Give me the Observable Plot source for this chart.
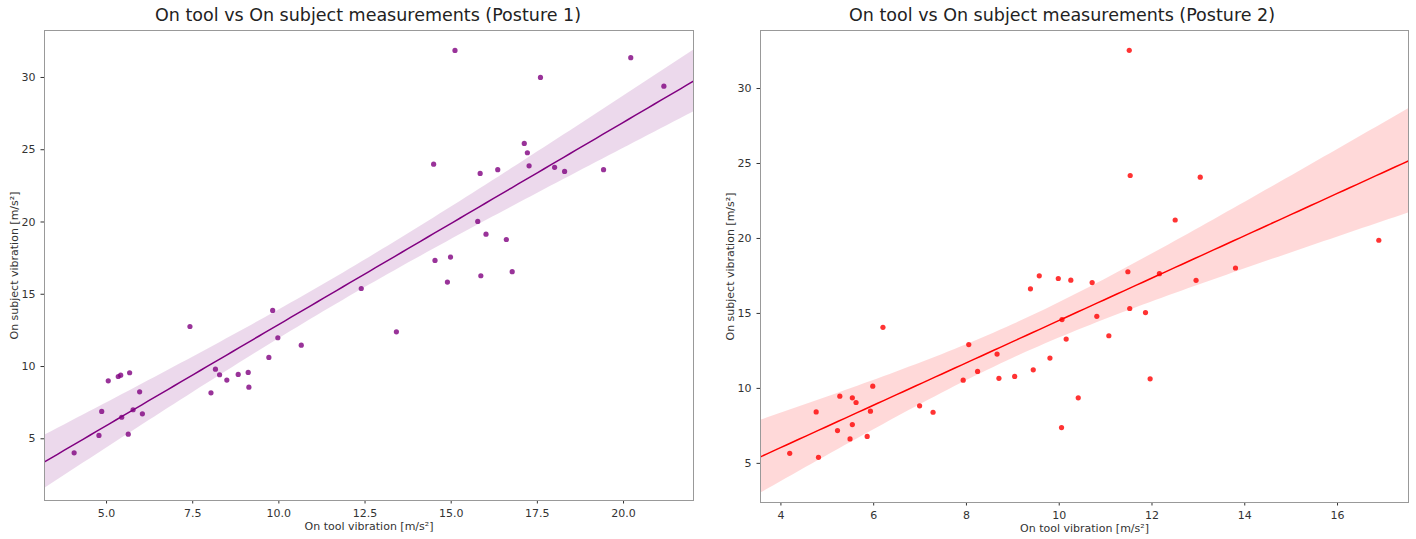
<!DOCTYPE html>
<html><head><meta charset="utf-8">
<script src="https://cdn.jsdelivr.net/npm/d3@7"></script>
<script src="https://cdn.jsdelivr.net/npm/@observablehq/plot@0.6"></script>
<style>
body{margin:0;background:#fff;font-family:"DejaVu Sans",sans-serif;}
#wrap{position:relative;width:1416px;height:539px;overflow:hidden;}
.title{position:absolute;top:5px;font-size:17.5px;color:#222;white-space:nowrap;transform:translateX(-50%);}
.panel{position:absolute;top:28px;}
</style></head><body><div id="wrap"></div>
<script>
// Posture 1 (purple)
const posture1Tool = [4.06,4.78,4.86,5.05,5.34,5.41,5.44,5.63,5.67,5.77,5.96,6.04,7.42,8.03,8.16,8.28,8.49,8.82,9.11,9.13,9.71,9.82,9.97,10.65,12.39,13.41,14.89,15.86,16.77,15.11,20.21,17.59,21.17,17.12,17.21,14.49,15.84,16.35,17.26,18.00,18.29,19.42,15.77,16.01,16.60,14.53,14.98];
const posture1Subject = [4.03,5.23,6.89,9.01,9.31,9.40,6.49,5.32,9.57,7.01,8.25,6.73,12.77,8.18,9.82,9.43,9.06,9.45,9.59,8.57,10.63,13.88,11.99,11.48,15.40,12.40,15.84,16.28,16.56,31.87,31.37,30.00,29.40,25.44,24.79,24.00,23.36,23.62,23.89,23.78,23.50,23.62,20.04,19.16,18.79,17.34,17.57];
// Posture 2 (red)
const posture2Tool = [4.19,4.76,4.81,5.22,5.27,5.49,5.54,5.54,5.62,5.86,5.93,5.98,6.20,6.99,7.28,7.93,8.05,8.24,8.66,8.70,9.04,9.38,9.44,9.57,9.80,9.98,10.05,10.06,10.15,10.25,10.71,10.81,11.07,10.41,11.52,11.48,11.86,11.96,12.16,12.95,11.51,11.53,13.04,12.50,16.89,13.80];
const posture2Subject = [5.67,8.43,5.40,7.19,9.48,6.63,9.37,7.59,9.06,6.80,8.48,10.15,14.07,8.84,8.41,10.55,12.92,11.13,12.29,10.67,10.80,16.64,11.24,17.51,12.02,17.33,7.39,14.59,13.29,17.22,17.06,14.81,13.51,9.37,15.33,17.78,15.06,10.64,17.65,17.21,32.55,24.20,24.09,21.23,19.88,18.03];

const posture1XTicks = [5, 7.5, 10, 12.5, 15, 17.5, 20];
const posture1YTicks = [5, 10, 15, 20, 25, 30];
const posture2XTicks = [4, 6, 8, 10, 12, 14, 16];
const posture2YTicks = [5, 10, 15, 20, 25, 30];

const titles = ["On tool vs On subject measurements (Posture 1)", "On tool vs On subject measurements (Posture 2)"];
const xLabel = "On tool vibration [m/s²]";
const yLabel = "On subject vibration [m/s²]";

function tQuantile975(df) {
  const z = 1.959964;
  return z + (z**3 + z) / (4 * df) + (5 * z**5 + 16 * z**3 + 3 * z) / (96 * df * df);
}

function regression(xs, ys, x0, x1) {
  const n = xs.length, mx = d3.mean(xs), my = d3.mean(ys);
  let sxx = 0, sxy = 0;
  for (let i = 0; i < n; i++) { sxx += (xs[i] - mx) ** 2; sxy += (xs[i] - mx) * (ys[i] - my); }
  const b = sxy / sxx, a = my - b * mx;
  let sse = 0;
  for (let i = 0; i < n; i++) sse += (ys[i] - (a + b * xs[i])) ** 2;
  const s = Math.sqrt(sse / (n - 2));
  const t = tQuantile975(n - 2);
  return d3.range(0, 101).map(i => {
    const x = x0 + (x1 - x0) * i / 100;
    const yh = a + b * x;
    const se = s * Math.sqrt(1 / n + (x - mx) ** 2 / sxx);
    return {x, y: yh, lo: yh - t * se, hi: yh + t * se};
  });
}

function panel(o) {
  const data = o.tool.map((x, i) => ({x, y: o.subject[i]}));
  const reg = regression(o.tool, o.subject, o.xDomain[0], o.xDomain[1]);
  return Plot.plot({
    width: o.width, height: 511,
    marginLeft: o.ml, marginRight: o.mr, marginTop: 2, marginBottom: o.mb,
    style: {fontFamily: "DejaVu Sans, sans-serif", fontSize: "11px", color: "#333", background: "#fff"},
    x: {domain: o.xDomain, ticks: o.xTicks, tickFormat: o.xFmt, label: xLabel, labelAnchor: "center", labelArrow: "none", labelOffset: 29, tickSize: 3.5},
    y: {domain: o.yDomain, ticks: o.yTicks, tickFormat: d => String(d), label: yLabel, labelAnchor: "center", labelArrow: "none", labelOffset: o.ylo, tickSize: 3.5},
    marks: [
      Plot.areaY(reg, {x: "x", y1: "lo", y2: "hi", fill: o.color, fillOpacity: 0.15, clip: true}),
      Plot.lineY(reg, {x: "x", y: "y", stroke: o.color, strokeWidth: 1.5, clip: true}),
      Plot.dot(data, {x: "x", y: "y", r: 2.6, fill: o.color, fillOpacity: 0.8, stroke: "none"}),
      Plot.frame({stroke: "#999"})
    ]
  });
}

const wrap = document.getElementById("wrap");
const p1 = panel({tool: posture1Tool, subject: posture1Subject, color: "#800080",
  xDomain: [3.2, 22.03], yDomain: [0.73, 33.25], xTicks: posture1XTicks, yTicks: posture1YTicks,
  xFmt: d3.format(".1f"), width: 708, ml: 44, mr: 15, mb: 39, ylo: 34});
const p2 = panel({tool: posture2Tool, subject: posture2Subject, color: "#ff0000",
  xDomain: [3.56, 17.53], yDomain: [2.39, 33.87], xTicks: posture2XTicks, yTicks: posture2YTicks,
  xFmt: d => String(d), width: 708, ml: 52, mr: 8, mb: 37, ylo: 34});
const d1 = document.createElement("div"); d1.className = "panel"; d1.style.left = "0px"; d1.appendChild(p1);
const d2 = document.createElement("div"); d2.className = "panel"; d2.style.left = "708px"; d2.appendChild(p2);
wrap.appendChild(d1); wrap.appendChild(d2);
[[titles[0], 368], [titles[1], 1062]].forEach(([t, cx]) => {
  const el = document.createElement("div"); el.className = "title"; el.textContent = t; el.style.left = cx + "px";
  wrap.appendChild(el);
});
</script></body></html>
